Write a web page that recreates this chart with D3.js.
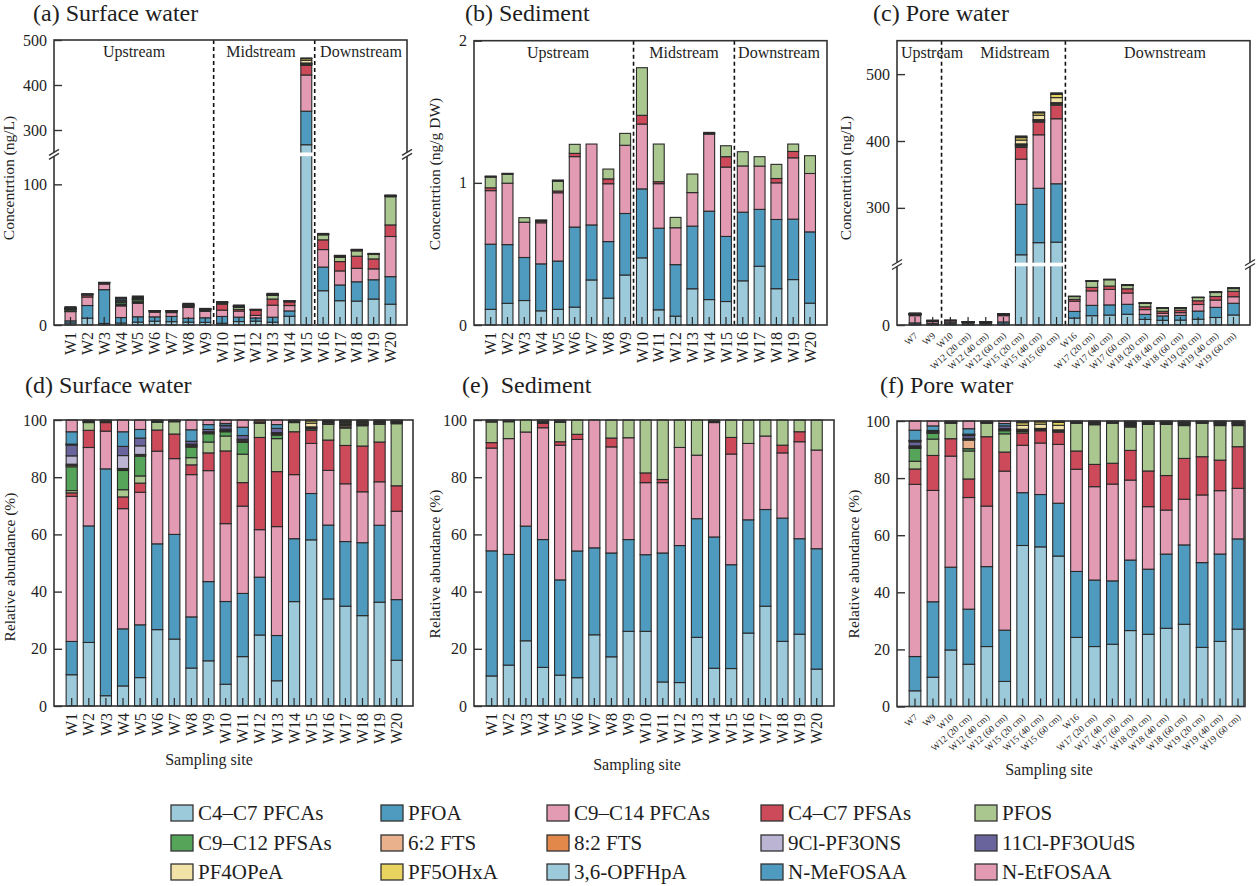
<!DOCTYPE html>
<html><head><meta charset="utf-8">
<script src="https://cdn.jsdelivr.net/npm/d3@7"></script>
<style>
body{margin:0;background:#fff}
svg{display:block}
text{font-family:"Liberation Serif","Times New Roman",serif;fill:#1e1e1e}
</style>
</head><body>
<svg id="chart" width="1257" height="886"></svg>
<script>
// ---------------- DATA ----------------
const species = ["C4–C7 PFCAs","PFOA","C9–C14 PFCAs","C4–C7 PFSAs","PFOS",
  "C9–C12 PFSAs","6:2 FTS","8:2 FTS","9Cl-PF3ONS","11Cl-PF3OUdS",
  "PF4OPeA","PF5OHxA","3,6-OPFHpA","N-MeFOSAA","N-EtFOSAA"];
const colors = ["#9dcadb","#4f9bc0","#e39ab3","#cc4a5a","#aac78f",
  "#55a459","#e9b28c","#e2884a","#bbb4d3","#6a649c",
  "#f1e3a7","#e8d35f","#9dcadb","#4f9bc0","#e39ab3"];

const riverSites = ["W1","W2","W3","W4","W5","W6","W7","W8","W9","W10",
  "W11","W12","W13","W14","W15","W16","W17","W18","W19","W20"];
const poreSites = ["W7","W9","W10","W12 (20 cm)","W12 (40 cm)","W12 (60 cm)",
  "W15 (20 cm)","W15 (40 cm)","W15 (60 cm)","W16","W17 (20 cm)","W17 (40 cm)",
  "W17 (60 cm)","W18 (20 cm)","W18 (40 cm)","W18 (60 cm)","W19 (20 cm)",
  "W19 (40 cm)","W19 (60 cm)"];

// total concentrations
const surfaceTotal = [13.0,22.0,30.3,19.7,20.6,10.2,10.2,15.4,11.8,16.6,
  14.2,11.1,22.5,17.1,460,65.1,49.5,53.8,50.9,92.4];           // ng/L
const sedimentTotal = [1.048,1.067,0.755,0.739,1.020,1.271,1.273,1.097,1.348,1.810,
  1.273,0.757,1.062,1.355,1.261,1.219,1.184,1.130,1.273,1.191]; // ng/g DW
const poreTotal = [18,7,7,5,5,17,407.5,443.5,472,43,66.5,68.5,60.5,33,25.5,25.5,
  41.5,49.5,55.5];                                             // ng/L

// relative abundance (%) per site, in species order
const surfacePct = [
  [10.9,11.6,50.6,1.2,0.8,8.3,0.5,0.4,2.9,3.8,0.1,0.1,0.1,4.3,4.1],
  [22.2,40.7,27.4,6.0,2.7,0.1,0.2,0.1,0,0,0,0,0,0.2,0.3],
  [3.6,79.4,13.2,3.0,0.3,0.2,0.2,0,0,0,0,0,0,0,0.2],
  [7.0,19.9,41.9,4.1,2.5,6.7,0.4,0.3,4.5,3.2,0,0,0,5.1,4.1],
  [9.9,18.4,46.2,3.2,2.5,6.9,0.3,0.3,3.0,2.7,0,0,0,3.0,3.3],
  [26.7,30.0,32.4,7.4,2.7,0.2,0.2,0,0,0,0,0,0,0.1,0.3],
  [23.4,36.6,26.5,8.6,4.3,0.1,0.2,0.1,0,0,0,0,0,0,0.2],
  [13.2,17.8,49.5,3.4,2.5,3.7,0.3,0.3,0.4,1.0,0,0,0,4.0,3.4],
  [15.8,27.7,38.8,6.2,3.8,2.9,0.2,0.2,0.3,0.8,0,0,0,1.7,1.6],
  [7.6,28.9,27.2,25.4,5.2,1.5,0.3,0.3,0.3,1.2,0.1,0.1,0,0.6,1.2],
  [17.2,22.0,30.4,8.2,9.9,4.1,0.4,0.4,0.3,1.3,0,0,0,2.9,2.5],
  [24.8,20.2,16.6,32.2,4.9,0.1,0.4,0.5,0,0,0,0,0,0,0.2],
  [8.8,15.8,38.0,19.2,11.5,1.2,0.3,0.3,0.3,1.5,0,0,0,1.3,1.6],
  [36.5,22.0,22.4,15.0,3.2,0,0.2,0.2,0,0,0,0.2,0,0,0.3],
  [58.1,16.2,17.5,4.6,0.5,0.1,0.3,0.2,0,0.1,1.3,0.8,0,0.1,0.2],
  [37.4,25.8,19.1,10.6,5.5,0,0.2,0.2,0,0,0.4,0.2,0,0.2,0.3],
  [34.9,22.6,20.2,13.4,6.1,0.3,0.5,0.4,0.2,0.3,0.3,0.2,0.1,0.3,0.2],
  [31.6,25.5,17.8,16.0,7.1,0,0.4,0.3,0,0.2,0.3,0.2,0,0.3,0.3],
  [36.3,26.9,15.2,13.9,6.2,0,0.2,0.2,0,0,0.2,0.4,0,0.2,0.3],
  [16.0,21.2,30.9,8.9,21.7,0,0.3,0.2,0,0.1,0.2,0,0,0.2,0.3]
];
const sedimentPct = [
  [10.5,43.7,35.9,1.9,7.2,0,0,0,0,0,0,0,0,0.3,0.4],
  [14.3,38.7,40.5,0,5.9,0,0,0,0,0,0,0,0,0.3,0.3],
  [22.8,40.1,32.9,0,4.2,0,0,0,0,0,0,0,0,0,0],
  [13.5,44.7,39.1,1.5,0.4,0,0,0,0,0,0,0,0,0.3,0.5],
  [10.8,33.3,47.1,1.2,6.8,0,0,0,0,0,0,0,0,0.4,0.4],
  [9.9,44.3,39.0,1.8,5.0,0,0,0,0,0,0,0,0,0,0],
  [24.9,30.4,44.7,0,0,0,0,0,0,0,0,0,0,0,0],
  [17.2,36.3,37.1,3.1,6.3,0,0,0,0,0,0,0,0,0,0],
  [26.1,32.1,35.6,0,6.2,0,0,0,0,0,0,0,0,0,0],
  [26.1,26.8,25.2,3.4,18.5,0,0,0,0,0,0,0,0,0,0],
  [8.4,45.1,24.6,1.1,20.8,0,0,0,0,0,0,0,0,0,0],
  [8.2,47.9,34.3,0,9.6,0,0,0,0,0,0,0,0,0,0],
  [24.0,41.5,22.2,0,12.3,0,0,0,0,0,0,0,0,0,0],
  [13.2,45.9,40.0,0,0.3,0,0,0,0,0,0,0,0,0.3,0.3],
  [13.1,36.3,38.7,5.8,6.1,0,0,0,0,0,0,0,0,0,0],
  [25.5,39.6,26.7,0,8.2,0,0,0,0,0,0,0,0,0,0],
  [34.9,33.8,25.7,0,5.6,0,0,0,0,0,0,0,0,0,0],
  [22.6,43.1,22.8,2.7,8.8,0,0,0,0,0,0,0,0,0,0],
  [25.1,33.4,33.9,3.5,4.1,0,0,0,0,0,0,0,0,0,0],
  [12.9,42.1,34.5,0,10.5,0,0,0,0,0,0,0,0,0,0]
];
const porePct = [
  [5.5,12.0,60.3,5.4,2.7,4.5,0.3,0.3,0.3,1.4,0.2,0.2,0.1,3.6,3.2],
  [10.2,26.3,38.8,12.2,5.7,2.0,0.2,0.2,0.2,0.4,0,0,0,1.6,1.7],
  [19.8,29.0,38.9,6.1,5.4,0,0.2,0.2,0,0,0,0,0,0.2,0.2],
  [14.8,19.3,39.1,6.5,9.8,0.8,3.0,0.3,0.3,1.0,0.2,0.2,0.1,1.9,2.7],
  [21.0,28.0,21.2,24.3,4.7,0,0.2,0.2,0,0,0,0,0,0.2,0.2],
  [8.8,18.0,55.8,6.7,6.4,1.1,0.2,0.2,0.3,1.0,0,0,0,0.8,0.9],
  [56.4,18.5,16.6,4.3,0.5,0.2,0.3,0.2,0,0.1,1.4,0.9,0,0.2,0.4],
  [55.8,18.3,18.0,4.3,0.3,0,0.3,0.2,0,0,1.5,0.8,0,0.1,0.2],
  [52.7,18.5,20.6,4.3,0.3,0,0.3,0.2,0,0,1.6,1.0,0,0.2,0.3],
  [24.2,23.1,35.8,6.4,9.7,0,0.2,0.2,0,0,0,0,0,0.2,0.2],
  [21.0,23.3,32.7,7.8,13.9,0,0.3,0.2,0,0,0.2,0.1,0,0.2,0.3],
  [21.8,22.2,33.9,7.3,14.0,0,0.2,0.2,0,0,0,0,0,0.2,0.2],
  [26.6,24.7,28.0,10.4,8.2,0,0.4,0.3,0,0.2,0.3,0.3,0,0.3,0.3],
  [25.3,22.8,21.9,12.5,16.3,0,0.3,0.2,0,0,0.2,0.1,0,0.2,0.2],
  [27.4,26.0,15.4,12.1,17.9,0,0.3,0.2,0,0,0.2,0.1,0,0.2,0.2],
  [28.8,27.8,16.0,14.3,11.5,0,0.4,0.3,0,0.1,0.2,0.2,0,0.2,0.2],
  [20.7,29.7,23.7,13.4,11.7,0,0.2,0.2,0,0,0,0,0,0.2,0.2],
  [22.8,30.6,22.2,10.7,12.1,0,0.4,0.3,0,0.1,0.2,0.2,0,0.2,0.2],
  [27.1,31.6,17.7,14.6,7.4,0,0.4,0.3,0,0.1,0.2,0.2,0,0.2,0.2]
];

const riverRegions = ["Upstream","Midstream","Downstream"];
const concTicksSurfaceLow = [0,100], concTicksSurfaceUp = [300,400,500];
const concTicksSediment = [0,1,2];
const concTicksPoreLow = [0], concTicksPoreUp = [300,400,500];
const pctTicks = [0,20,40,60,80,100];

// ---------------- HELPERS ----------------
const svg = d3.select("#chart");
const FONT = '"Liberation Serif","Times New Roman",serif';
const STROKE = "#2a2a2a";

function buildTable(sites, pct, total){
  return sites.map((s,i)=>{
    const sum = d3.sum(pct[i]);
    const rel = {site:s}, abs = {site:s};
    pct[i].forEach((v,k)=>{ rel[k] = v/sum*100; abs[k] = v/sum*total[i]; });
    return {rel, abs};
  });
}
const keys = d3.range(species.length);

function brokenScale(lowDom, lowRange, upDom, upRange){
  const lo = d3.scaleLinear().domain(lowDom).range(lowRange);
  const up = d3.scaleLinear().domain(upDom).range(upRange);
  const mid = (lowRange[1]+upRange[0])/2;
  const f = v => v <= lowDom[1] ? lo(v) : (v >= upDom[0] ? up(v) : mid);
  f.lo = lo; f.up = up; f.gap = [upRange[0], lowRange[1]];
  return f;
}

function drawPanel(cfg){
  const g = svg.append("g");
  const {fx0, fx1, fy0, fy1} = cfg;
  const n = cfg.sites.length;
  const step = (cfg.cN - cfg.c0)/(n-1);
  const x = d3.scaleBand().domain(cfg.sites)
      .range([cfg.c0 - step/2, cfg.cN + step/2]).paddingInner(0.35).paddingOuter(0.175);
  const y = cfg.y;

  const stacked = d3.stack().keys(keys)(cfg.rows);
  stacked.forEach((layer, k)=>{
    g.append("g").selectAll("rect")
      .data(layer.filter(d => d[1]-d[0] > 0))
      .join("rect")
      .attr("x", d => x(d.data.site))
      .attr("width", x.bandwidth())
      .attr("y", d => y(d[1]))
      .attr("height", d => Math.max(0, y(d[0]) - y(d[1])))
      .attr("fill", colors[k])
      .attr("stroke", STROKE).attr("stroke-width", 1.1);
  });

  if (y.gap){
    g.append("rect").attr("x", fx0+1).attr("width", fx1-fx0-2)
      .attr("y", y.gap[0]).attr("height", y.gap[1]-y.gap[0]).attr("fill","#fff");
  }

  if (cfg.dividers){
    cfg.dividers.forEach(i=>{
      const xm = (x(cfg.sites[i]) + x(cfg.sites[i+1]) + x.bandwidth())/2;
      g.append("line").attr("x1",xm).attr("x2",xm).attr("y1",fy0).attr("y2",fy1)
        .attr("stroke","#111").attr("stroke-width",1.6).attr("stroke-dasharray","4,3");
    });
    cfg.regionX.forEach((rx,i)=>{
      g.append("text").attr("x",rx).attr("y",fy0+17).attr("text-anchor","middle")
        .attr("font-size",16).text(riverRegions[i]);
    });
  }

  g.append("rect").attr("x",fx0).attr("y",fy0).attr("width",fx1-fx0).attr("height",fy1-fy0)
    .attr("fill","none").attr("stroke","#333").attr("stroke-width",1.6);

  const xa = g.append("g").attr("transform",`translate(0,${fy1})`)
    .call(d3.axisBottom(x).tickSizeInner(-8).tickSizeOuter(0));
  xa.select(".domain").remove();
  xa.selectAll(".tick line").attr("stroke",STROKE).attr("stroke-width",1.2);
  xa.attr("font-family",FONT);
  if (cfg.slant){
    xa.selectAll(".tick text").attr("font-size",9.5).attr("fill","#222")
      .attr("x",0).attr("y",0).attr("dy","0.35em")
      .attr("transform","translate(1,9) rotate(-42)").attr("text-anchor","end");
  } else {
    xa.selectAll(".tick text").attr("font-size",16).attr("fill","#222")
      .attr("x",-7).attr("y",0).attr("dy","0.35em")
      .attr("transform","rotate(-90)").attr("text-anchor","end");
  }

  cfg.yTicks.forEach(t=>{
    const ya = g.append("g").attr("transform",`translate(${fx0},0)`)
      .call(d3.axisLeft(t.scale).tickValues(t.values).tickFormat(d3.format("d"))
        .tickSizeInner(-8).tickSizeOuter(0).tickPadding(7));
    ya.select(".domain").remove();
    ya.attr("font-family",FONT);
    ya.selectAll(".tick line").attr("stroke","#333").attr("stroke-width",1.4);
    ya.selectAll(".tick text").attr("font-size",16).attr("fill","#222");
  });

  if (y.gap){
    const yb = (y.gap[0]+y.gap[1])/2;
    [fx0, fx1].forEach(sx=>{
      g.append("rect").attr("x",sx-2).attr("width",4).attr("y",yb-2).attr("height",4).attr("fill","#fff");
      [-2, 2].forEach(o=>{
        g.append("line").attr("x1",sx-5).attr("y1",yb+o+3).attr("x2",sx+5).attr("y2",yb+o-3)
          .attr("stroke","#333").attr("stroke-width",1.4);
      });
    });
  }

  svg.append("text").attr("x",cfg.title[1]).attr("y",cfg.title[2]).attr("font-size",24)
    .attr("xml:space","preserve").text(cfg.title[0]);
  svg.append("text").attr("transform",`translate(${cfg.ylab[1]},${cfg.ylab[2]}) rotate(-90)`)
    .attr("text-anchor","middle").attr("font-size",15.5).text(cfg.ylab[0]);
  if (cfg.xlab){
    svg.append("text").attr("x",cfg.xlab[0]).attr("y",cfg.xlab[1]).attr("text-anchor","middle")
      .attr("font-size",16).text("Sampling site");
  }
}

const sw = buildTable(riverSites, surfacePct, surfaceTotal);
const sd = buildTable(riverSites, sedimentPct, sedimentTotal);
const pw = buildTable(poreSites, porePct, poreTotal);

// (a)
const ya = brokenScale([0,120],[325,156.2],[250,500],[152.5,40]);
drawPanel({fx0:54,fx1:407,fy0:40,fy1:325,c0:70.5,cN:390.5,sites:riverSites,
  rows:sw.map(d=>d.abs), y:ya,
  yTicks:[{scale:ya.lo,values:concTicksSurfaceLow},{scale:ya.up,values:concTicksSurfaceUp}],
  dividers:[8,14], regionX:[134,261,361],
  title:["(a) Surface water",33,21], ylab:["Concentrtion (ng/L)",14,178]});
// (b)
const yb = d3.scaleLinear().domain([0,2]).range([325,40.7]);
drawPanel({fx0:474,fx1:827,fy0:40.7,fy1:325,c0:490.7,cN:810,sites:riverSites,
  rows:sd.map(d=>d.abs), y:yb,
  yTicks:[{scale:yb,values:concTicksSediment}],
  dividers:[8,14], regionX:[558,684,779],
  title:["(b) Sediment",465,21], ylab:["Concentrtion (ng/g DW)",440,174]});
// (c)
const yc = brokenScale([0,88],[325,266.3],[218,550],[262.7,40.7]);
drawPanel({fx0:897,fx1:1250,fy0:40.7,fy1:325,c0:915,cN:1233.5,sites:poreSites,
  rows:pw.map(d=>d.abs), y:yc, slant:true,
  yTicks:[{scale:yc.lo,values:concTicksPoreLow},{scale:yc.up,values:concTicksPoreUp}],
  dividers:[1,8], regionX:[932,1015,1165],
  title:["(c) Pore water",873,21], ylab:["Concentrtion (ng/L)",851,178]});
// (d)
const yd = d3.scaleLinear().domain([0,100]).range([706,420]);
drawPanel({fx0:54,fx1:413,fy0:420,fy1:706,c0:71.7,cN:396.7,sites:riverSites,
  rows:sw.map(d=>d.rel), y:yd, yTicks:[{scale:yd,values:pctTicks}],
  title:["(d) Surface water",25,393], ylab:["Relative abundance (%)",15,567], xlab:[209,765]});
// (e)
const ye = d3.scaleLinear().domain([0,100]).range([706,420]);
drawPanel({fx0:474,fx1:834,fy0:420,fy1:706,c0:491.7,cN:816.7,sites:riverSites,
  rows:sd.map(d=>d.rel), y:ye, yTicks:[{scale:ye,values:pctTicks}],
  title:["(e)  Sediment",462,393], ylab:["Relative abundance (%)",440,564], xlab:[637,770]});
// (f)
const yf = d3.scaleLinear().domain([0,100]).range([706.5,421]);
drawPanel({fx0:897,fx1:1245,fy0:421,fy1:706.5,c0:915,cN:1238,sites:poreSites,
  rows:pw.map(d=>d.rel), y:yf, slant:true, yTicks:[{scale:yf,values:pctTicks}],
  title:["(f) Pore water",880,393], ylab:["Relative abundance (%)",859,564], xlab:[1049,775]});

// ---------------- LEGEND ----------------
const legendCols = [171,381,547,761,975];
const legendRows = [813,843,872];
const lg = svg.append("g");
species.forEach((s,i)=>{
  const cx = legendCols[i%5], cy = legendRows[Math.floor(i/5)];
  lg.append("rect").attr("x",cx).attr("y",cy-8).attr("width",22).attr("height",16)
    .attr("fill",colors[i]).attr("stroke","#333").attr("stroke-width",1.3);
  lg.append("text").attr("x",cx+27).attr("y",cy).attr("dy","0.35em")
    .attr("font-size",21).text(s);
});
</script>
</body></html>
